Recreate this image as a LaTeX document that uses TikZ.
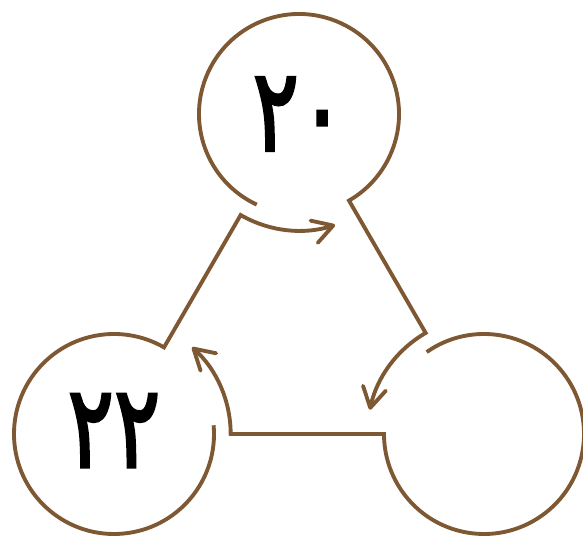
\documentclass[tikz,border=0pt]{standalone}
\usepackage{fontspec}
\newfontfamily\arabicfont[Script=Arabic,FakeBold=2.5]{DejaVu Sans}
\usetikzlibrary{arrows.meta,calc}
\definecolor{loopbrown}{RGB}{125,88,50}
\newcommand{\tallnum}[1]{\scalebox{0.9}[1.2]{#1}}

\begin{document}
\begin{tikzpicture}[x=0.03cm,y=0.03cm,
every node/.style={circle,minimum size=6cm,inner sep=0pt,
  font=\arabicfont\fontsize{82}{82}\selectfont},
flow/.style={draw=loopbrown,line width=3.3pt,
  -{Straight Barb[length=6mm,width=7mm,round]}}]
\useasboundingbox (0,0) rectangle (583,537);
\node (T) at (299,423) {\tallnum{٢٠}};
\node (L) at (114,103) {\raisebox{2mm}{\tallnum{٢٢}}};
\node (R) at (484,103) {};
\draw[flow] ($(T)+(245:3cm)$) arc[start angle=245,delta angle=-305,radius=3cm]
  -- ($(R)+(120:3.5cm)$) arc[start angle=120,delta angle=48,radius=3.5cm];
\draw[flow] ($(R)+(125:3cm)$) arc[start angle=125,delta angle=-305,radius=3cm]
  -- ($(L)+(0:3.5cm)$) arc[start angle=0,delta angle=48,radius=3.5cm];
\draw[flow] ($(L)+(5:3cm)$) arc[start angle=5,delta angle=-305,radius=3cm]
  -- ($(T)+(-120:3.5cm)$) arc[start angle=-120,delta angle=48,radius=3.5cm];
\end{tikzpicture}
\end{document}
